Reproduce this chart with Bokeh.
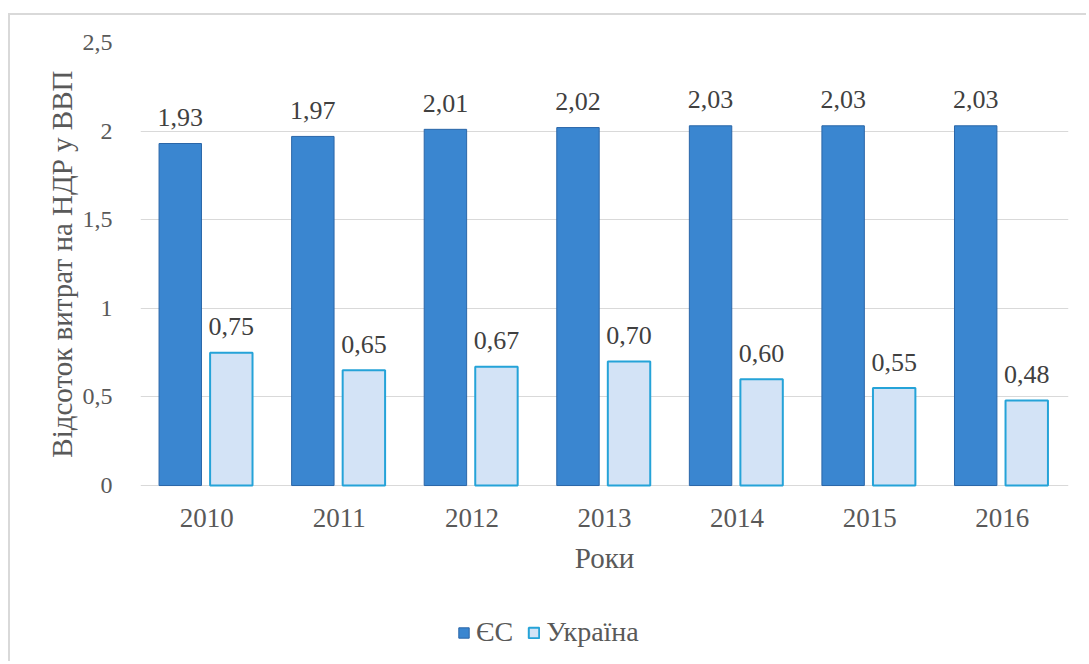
from bokeh.plotting import figure
from bokeh.models import ColumnDataSource, Range1d, Legend, LegendItem, FactorRange, FixedTicker, Title
from bokeh.transform import dodge
from bokeh.core.properties import value
from bokeh.embed import file_html
from bokeh.resources import INLINE

years = ["2010", "2011", "2012", "2013", "2014", "2015", "2016"]
eu = [1.93, 1.97, 2.01, 2.02, 2.03, 2.03, 2.03]
ua = [0.75, 0.65, 0.67, 0.70, 0.60, 0.55, 0.48]
eu_labels = ["1,93", "1,97", "2,01", "2,02", "2,03", "2,03", "2,03"]
ua_labels = ["0,75", "0,65", "0,67", "0,70", "0,60", "0,55", "0,48"]
y_ticks = [0, 0.5, 1, 1.5, 2, 2.5]
y_tick_labels = ["0", "0,5", "1", "1,5", "2", "2,5"]
x_title = "Роки"
y_title = "Відсоток витрат на НДР у ВВП"

FONT = "Liberation Serif"
GREY = "#595959"

src = ColumnDataSource(dict(year=years, eu=eu, ua=ua, eul=eu_labels, ual=ua_labels,
                            zero=[0] * len(years)))

p = figure(width=1078, height=648, x_range=FactorRange(*years), y_range=Range1d(-0.976, 2.5),
           output_backend="svg", toolbar_location=None,
           min_border_left=130, min_border_right=20, min_border_top=27, min_border_bottom=5)
p.styles = {"border-left": "2px solid #d9d9d9", "border-top": "2px solid #d9d9d9",
            "margin-left": "8px", "margin-top": "13px"}
p.outline_line_color = None
p.background_fill_color = "white"
p.border_fill_color = "white"

r_eu = p.vbar(x=dodge("year", -0.2, range=p.x_range), top="eu", width=0.32, source=src,
              fill_color="#3a86d0", line_color="#2a66a8", line_width=1)
r_ua = p.vbar(x=dodge("year", 0.185, range=p.x_range), top="ua", width=0.32, source=src,
              fill_color="#d3e3f6", line_color="#25a3d8", line_width=2)

p.text(x=dodge("year", -0.2, range=p.x_range), y="eu", text="eul", source=src,
       text_align="center", text_baseline="alphabetic", y_offset=-26,
       text_font=value(FONT), text_font_size="26px", text_color="#404040")
p.text(x=dodge("year", 0.185, range=p.x_range), y="ua", text="ual", source=src,
       text_align="center", text_baseline="alphabetic", y_offset=-26,
       text_font=value(FONT), text_font_size="26px", text_color="#404040")

# category labels and axis title drawn below the zero line
p.text(x="year", y="zero", text="year", source=src,
       text_align="center", text_baseline="alphabetic", y_offset=32,
       text_font=value(FONT), text_font_size="27px", text_color=GREY)
p.text(x=[years[3]], y=[0], text=[x_title],
       text_align="center", text_baseline="alphabetic", y_offset=72,
       text_font=value(FONT), text_font_size="29px", text_color=GREY)
p.xaxis.visible = False

p.yaxis.ticker = FixedTicker(ticks=y_ticks)
p.yaxis.major_label_overrides = {t: l for t, l in zip(y_ticks, y_tick_labels)}
p.yaxis.axis_line_color = None
p.yaxis.major_tick_line_color = None
p.yaxis.minor_tick_line_color = None
p.yaxis.major_label_text_font = FONT
p.yaxis.major_label_text_font_size = "24px"
p.yaxis.major_label_text_color = GREY
p.yaxis.major_label_standoff = 22

ytitle = Title(text=y_title, align="right", offset=28, standoff=4,
               text_font=FONT, text_font_size="29px", text_font_style="normal",
               text_color=GREY)
p.add_layout(ytitle, "left")

p.xgrid.grid_line_color = None
p.ygrid.ticker = FixedTicker(ticks=y_ticks)
p.ygrid.grid_line_color = "#d9d9d9"
p.ygrid.grid_line_width = 1

legend = Legend(items=[LegendItem(label="ЄС", renderers=[r_eu]),
                       LegendItem(label="Україна", renderers=[r_ua])],
                orientation="horizontal", location=(317, 10),
                glyph_width=13, glyph_height=13, label_standoff=6, spacing=14,
                padding=0, margin=0, border_line_color=None, background_fill_alpha=0,
                label_text_font=FONT, label_text_font_size="28px", label_text_color=GREY)
p.add_layout(legend, "center")

open("out.html", "w").write(file_html(p, INLINE))
